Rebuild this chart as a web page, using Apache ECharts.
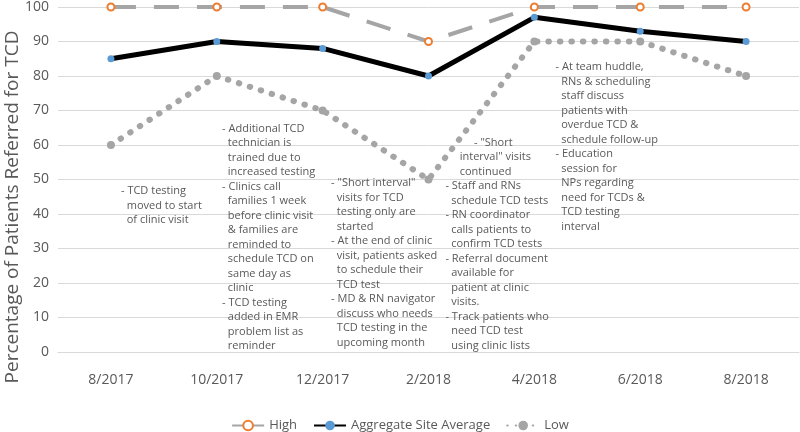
<!DOCTYPE html>
<html>
<head>
<meta charset="utf-8">
<script src="https://cdn.jsdelivr.net/npm/echarts@6/dist/echarts.min.js"></script>
<style>
  html, body { margin: 0; padding: 0; background: #fff; }
  #chart { width: 800px; height: 432px; }
</style>
</head>
<body>
<div id="chart"></div>
<script>
// categories and values
var months = ['8/2017', '10/2017', '12/2017', '2/2018', '4/2018', '6/2018', '8/2018'];
var high = [100, 100, 100, 90, 100, 100, 100];
var average = [85, 90, 88, 80, 97, 93, 90];
var low = [60, 80, 70, 50, 90, 90, 80];

// notes: cat = category index, off = fraction of a category step to the right,
// top = value at the top edge of the text block
var notes = [
    { cat: 0, off: 0.095, top: 48.8, text: '- TCD testing\n  moved to start\n  of clinic visit' },
    { cat: 1, off: 0.05, top: 66.9, text: '- Additional TCD\n  technician is\n  trained due to\n  increased testing\n- Clinics call\n  families 1 week\n  before clinic visit\n  & families are\n  reminded to\n  schedule TCD on\n  same day as\n  clinic\n- TCD testing\n  added in EMR\n  problem list as\n  reminder' },
    { cat: 2, off: 0.08, top: 51, text: '- "Short interval"\n  visits for TCD\n  testing only are\n  started\n- At the end of clinic\n  visit, patients asked\n  to schedule their\n  TCD test\n- MD & RN navigator\n  discuss who needs\n  TCD testing in the\n  upcoming month' },
    { cat: 3, off: 0.16, top: 62.8, text: '          - "Short\n     interval" visits\n     continued\n- Staff and RNs\n  schedule TCD tests\n- RN coordinator\n  calls patients to\n  confirm TCD tests\n- Referral document\n  available for\n  patient at clinic\n  visits.\n- Track patients who\n  need TCD test\n  using clinic lists' },
    { cat: 4, off: 0.2, top: 84.7, text: '- At team huddle,\n  RNs & scheduling\n  staff discuss\n  patients with\n  overdue TCD &\n  schedule follow-up\n- Education\n  session for\n  NPs regarding\n  need for TCDs &\n  TCD testing\n  interval' }
];

var font = 'Open Sans';
var gray = '#595959';
var myChart = echarts.init(document.getElementById('chart'));

var option = {
    animation: false,
    textStyle: { fontFamily: font },
    grid: { left: 58, right: 1, top: 5, bottom: 80 },
    legend: {
        top: 414,
        left: 'center',
        itemWidth: 32,
        itemHeight: 12,
        itemGap: 16,
        textStyle: { fontSize: 13, color: gray, fontFamily: font },
        data: [
            { name: 'High', lineStyle: { type: 'solid' } },
            { name: 'Aggregate Site Average' },
            { name: 'Low', lineStyle: { type: [0.5, 8] } }
        ]
    },
    xAxis: {
        type: 'category',
        data: months,
        boundaryGap: true,
        axisLine: { lineStyle: { color: '#d9d9d9' } },
        axisTick: { show: false },
        axisLabel: { fontSize: 14, color: gray, margin: 21 }
    },
    yAxis: {
        type: 'value',
        min: 0,
        max: 100,
        interval: 10,
        axisLabel: { fontSize: 14, color: gray, margin: 9 },
        splitLine: { lineStyle: { color: '#d9d9d9', width: 1 } }
    },
    series: [{
        name: 'High',
        type: 'line',
        data: high,
        symbol: 'emptyCircle',
        symbolSize: 7,
        itemStyle: { color: '#ED7D31', borderWidth: 1.5 },
        lineStyle: { color: '#A5A5A5', width: 4, type: [25, 18] },
        z: 2
    }, {
        name: 'Aggregate Site Average',
        type: 'line',
        data: average,
        symbol: 'circle',
        symbolSize: 7,
        itemStyle: { color: '#5B9BD5' },
        lineStyle: { color: '#000000', width: 5 },
        z: 3
    }, {
        name: 'Low',
        type: 'line',
        data: low,
        symbol: 'circle',
        symbolSize: 8,
        itemStyle: { color: '#A5A5A5' },
        lineStyle: { color: '#A5A5A5', width: 6, type: [0.5, 11], cap: 'round' },
        z: 2
    }]
};

myChart.setOption(option);

// place the note blocks through the chart's own scales
var graphics = notes.map(function(n) {
    var a = myChart.convertToPixel({ gridIndex: 0 }, [n.cat, n.top]);
    var b = myChart.convertToPixel({ gridIndex: 0 }, [n.cat + 1, n.top]);
    return {
        type: 'text',
        x: a[0] + (b[0] - a[0]) * n.off,
        y: a[1],
        z: 10,
        style: {
            text: n.text,
            fill: gray,
            font: '11px "Open Sans"',
            lineHeight: 14.5,
            verticalAlign: 'top'
        }
    };
});

// y axis title, set lower than the grid centre as in the original
graphics.push({
    type: 'text',
    x: 13,
    y: 207,
    rotation: Math.PI / 2,
    style: {
        text: 'Percentage of Patients Referred for TCD',
        fill: gray,
        font: '19px "Open Sans"',
        align: 'center',
        verticalAlign: 'middle'
    }
});
myChart.setOption({ graphic: graphics });
</script>
</body>
</html>
